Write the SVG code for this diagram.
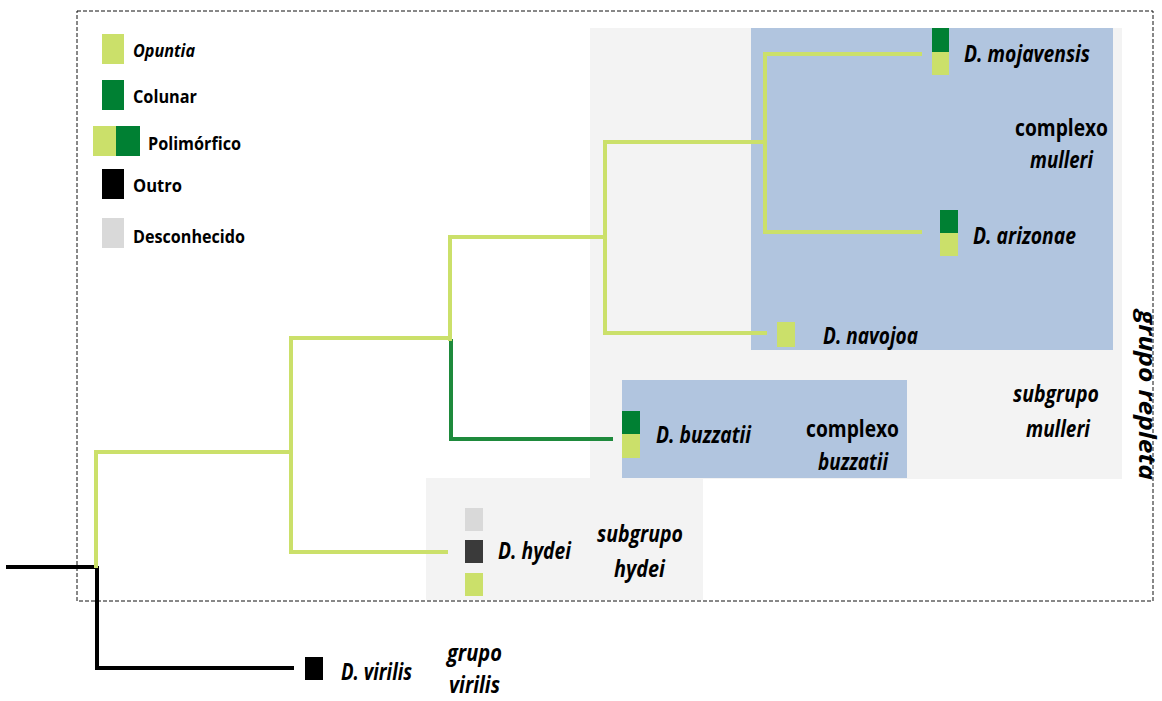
<svg xmlns="http://www.w3.org/2000/svg" width="1162" height="701" viewBox="0 0 1162 701">
<style>
text{font-family:"Open Sans","Liberation Sans",sans-serif;font-weight:700;fill:#000;font-size:23px}
.i{font-style:italic}
.lg{font-size:18px}
.br{fill:none;stroke:#cbe06a;stroke-width:4;stroke-linecap:square}
.dk{fill:none;stroke:#1e8a3c;stroke-width:4;stroke-linecap:square}
.bk{fill:none;stroke:#000;stroke-width:4;stroke-linecap:square}
.op{fill:#cbe06a}.co{fill:#008033}.ou{fill:#000}.de{fill:#d9d9d9}.dg{fill:#3a3a3a}
</style>
<rect width="1162" height="701" fill="#fff"/>
<g id="regions">
<rect x="590" y="28" width="532" height="451" fill="#f3f3f3"/>
<rect x="426" y="478" width="277" height="122" fill="#f3f3f3"/>
<rect x="751" y="28" width="362" height="322" fill="#b1c5df"/>
<rect x="622" y="380" width="285" height="98" fill="#b1c5df"/>
<rect x="77" y="11" width="1076" height="590" fill="none" stroke="#111" stroke-width="1" stroke-dasharray="4,2"/>
</g>
<g id="legend">
<rect class="op" x="102" y="34" width="22" height="30"/>
<text class="lg i" x="133" y="57" textLength="62" lengthAdjust="spacingAndGlyphs">Opuntia</text>
<rect class="co" x="102" y="80" width="22" height="30"/>
<text class="lg" x="133" y="103" textLength="64" lengthAdjust="spacingAndGlyphs">Colunar</text>
<rect class="op" x="93" y="126" width="23" height="30"/>
<rect class="co" x="116" y="126" width="24" height="30"/>
<text class="lg" x="148" y="150" textLength="93" lengthAdjust="spacingAndGlyphs">Polimórfico</text>
<rect class="ou" x="102" y="169" width="22" height="30"/>
<text class="lg" x="133" y="192" textLength="49" lengthAdjust="spacingAndGlyphs">Outro</text>
<rect class="de" x="102" y="218" width="22" height="30"/>
<text class="lg" x="133" y="243" textLength="112" lengthAdjust="spacingAndGlyphs">Desconhecido</text>
</g>
<g id="connectors">
<path class="bk" d="M8 567H96"/>
<path class="bk" d="M97 568V668H292"/>
<path class="br" d="M96 566V452H291"/>
<path class="br" d="M291 338V552H446"/>
<path class="br" d="M291 338H450V339"/>
<path class="dk" d="M451 341V439H611"/>
<path class="br" d="M450 339V237H605"/>
<path class="br" d="M605 142V333H765"/>
<path class="br" d="M605 142H765"/>
<path class="br" d="M765 54V232H920"/>
<path class="br" d="M765 54H920"/>
</g>
<g id="mojavensis">
<rect class="co" x="932" y="28" width="17" height="24"/>
<rect class="op" x="932" y="52" width="17" height="23"/>
<text class="i" x="964" y="62" textLength="126" lengthAdjust="spacingAndGlyphs">D. mojavensis</text>
</g>
<g id="arizonae">
<rect class="co" x="940" y="210" width="18" height="23"/>
<rect class="op" x="940" y="233" width="18" height="23"/>
<text class="i" x="973" y="244" textLength="103" lengthAdjust="spacingAndGlyphs">D. arizonae</text>
</g>
<g id="navojoa">
<rect class="op" x="777" y="322" width="18" height="25"/>
<text class="i" x="823" y="344" textLength="95" lengthAdjust="spacingAndGlyphs">D. navojoa</text>
</g>
<g id="complexo-mulleri">
<text x="1015" y="136" textLength="93" lengthAdjust="spacingAndGlyphs">complexo</text>
<text class="i" x="1030" y="168" textLength="63" lengthAdjust="spacingAndGlyphs">mulleri</text>
</g>
<g id="buzzatii">
<rect class="co" x="622" y="411" width="18" height="23"/>
<rect class="op" x="622" y="434" width="18" height="24"/>
<text class="i" x="656" y="443" textLength="95" lengthAdjust="spacingAndGlyphs">D. buzzatii</text>
</g>
<g id="complexo-buzzatii">
<text x="806" y="437" textLength="93" lengthAdjust="spacingAndGlyphs">complexo</text>
<text class="i" x="818" y="470" textLength="70" lengthAdjust="spacingAndGlyphs">buzzatii</text>
</g>
<g id="subgrupo-mulleri">
<text class="i" x="1013" y="402" textLength="86" lengthAdjust="spacingAndGlyphs">subgrupo</text>
<text class="i" x="1026" y="437" textLength="64" lengthAdjust="spacingAndGlyphs">mulleri</text>
</g>
<g id="hydei">
<rect class="de" x="465" y="508" width="18" height="23"/>
<rect class="dg" x="465" y="540" width="18" height="23"/>
<rect class="op" x="465" y="573" width="18" height="23"/>
<text class="i" x="498" y="559" textLength="73" lengthAdjust="spacingAndGlyphs">D. hydei</text>
</g>
<g id="subgrupo-hydei">
<text class="i" x="597" y="542" textLength="86" lengthAdjust="spacingAndGlyphs">subgrupo</text>
<text class="i" x="614" y="577" textLength="51" lengthAdjust="spacingAndGlyphs">hydei</text>
</g>
<g id="virilis">
<rect class="ou" x="305" y="657" width="18" height="23"/>
<text class="i" x="341" y="680" textLength="71" lengthAdjust="spacingAndGlyphs">D. virilis</text>
</g>
<g id="grupo-virilis">
<text class="i" x="447" y="661" textLength="55" lengthAdjust="spacingAndGlyphs">grupo</text>
<text class="i" x="449" y="693" font-size="22" textLength="51" lengthAdjust="spacingAndGlyphs">virilis</text>
</g>
<g id="grupo-repleta">
<text class="i" transform="translate(1139 310) rotate(90)" x="0" y="0" font-size="19" textLength="170" lengthAdjust="spacingAndGlyphs">grupo repleta</text>
</g>
</svg>
